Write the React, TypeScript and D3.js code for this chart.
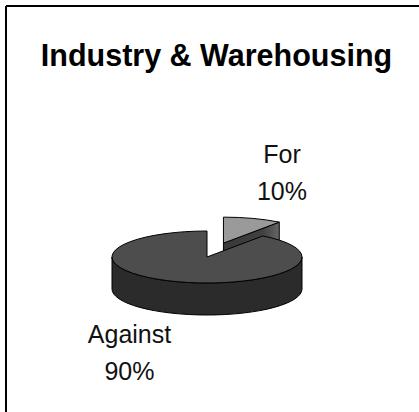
import React from "react";
import * as d3 from "d3";

const categories = ["For", "Against"];
const values = [10, 90];
const percentLabels = ["10%", "90%"];
const title = "Industry & Warehousing";

const W = 419;
const H = 412;
const CX = 207;
const CY = 257;
const RX = 95;
const RY = 26;
const DEPTH = 32;
const EXPLODE = [0.56, 0];

const topColors = ["#9a9a9a", "#4d4d4d"];
const wallColors = ["#5e5e5e", "#2b2b2b"];
const cutColors = ["#3e3e3e", "#3a3a3a"];

const labelPos = [
  { x: 282, y: 163 },
  { x: 129.5, y: 343 },
];

function pt(a: number, cx: number, cy: number, dy = 0): [number, number] {
  return [cx + RX * Math.sin(a), cy - RY * Math.cos(a) + dy];
}

export default function App() {
  const pie = d3.pie<number>().sort(null).value((d) => d).startAngle(0).endAngle(2 * Math.PI);
  const arcs = pie(values);

  const slices = arcs.map((a, i) => {
    const mid = (a.startAngle + a.endAngle) / 2;
    const k = EXPLODE[i];
    const cx = CX + k * RX * Math.sin(mid);
    const cy = CY - k * RY * Math.cos(mid);
    const a0 = a.startAngle;
    const a1 = a.endAngle;
    const large = a1 - a0 > Math.PI ? 1 : 0;
    const s = pt(a0, cx, cy);
    const e = pt(a1, cx, cy);
    const top = `M${cx},${cy}L${s[0]},${s[1]}A${RX},${RY} 0 ${large} 1 ${e[0]},${e[1]}Z`;

    const w0 = Math.max(a0, Math.PI / 2);
    const w1 = Math.min(a1, (3 * Math.PI) / 2);
    let wall: string | null = null;
    if (w1 > w0) {
      const ws = pt(w0, cx, cy);
      const we = pt(w1, cx, cy);
      wall = `M${ws[0]},${ws[1]}A${RX},${RY} 0 0 1 ${we[0]},${we[1]}L${we[0]},${we[1] + DEPTH}A${RX},${RY} 0 0 0 ${ws[0]},${ws[1] + DEPTH}Z`;
    }
    let cut: string | null = null;
    if (a1 > 0 && a1 < Math.PI) {
      cut = `M${cx},${cy}L${e[0]},${e[1]}L${e[0]},${e[1] + DEPTH}L${cx},${cy + DEPTH}Z`;
    }
    let cutStart: string | null = null;
    if (a0 > Math.PI && a0 < 2 * Math.PI) {
      cutStart = `M${cx},${cy}L${s[0]},${s[1]}L${s[0]},${s[1] + DEPTH}L${cx},${cy + DEPTH}Z`;
    }
    return { i, top, wall, cut, cutStart };
  });

  const font = "'Liberation Sans', Arial, sans-serif";

  return (
    <div style={{ position: "absolute", left: 0, top: 0 }}>
      <svg width={W} height={H} style={{ display: "block", background: "#fff" }}>
        <rect x={0} y={0} width={W} height={H} fill="#fff" />
        <line x1={6} y1={6} x2={W} y2={6} stroke="#000" strokeWidth={2} />
        <line x1={6} y1={6} x2={6} y2={H} stroke="#000" strokeWidth={2} />
        <text x={216.5} y={66} textAnchor="middle" fontFamily={font} fontWeight="bold" fontSize={30.5} fill="#000">
          {title}
        </text>
        <defs>
          <linearGradient id="cutGrad" x1="0" y1="0" x2="1" y2="0">
            <stop offset="0" stopColor="#383838" />
            <stop offset="0.7" stopColor="#404040" />
            <stop offset="1" stopColor="#666" />
          </linearGradient>
        </defs>
        {slices.map((s) => (
          <g key={categories[s.i]}>
            {s.wall && <path d={s.wall} fill={wallColors[s.i]} stroke="#000" strokeWidth={1} strokeLinejoin="round" />}
            {s.cutStart && <path d={s.cutStart} fill={cutColors[s.i]} stroke="#000" strokeWidth={1} />}
            {s.cut && <path d={s.cut} fill={s.i === 0 ? "url(#cutGrad)" : cutColors[s.i]} stroke="#000" strokeWidth={1} />}
            <path d={s.top} fill={topColors[s.i]} stroke="#000" strokeWidth={1} strokeLinejoin="round" />
          </g>
        ))}
        {categories.map((c, i) => (
          <g key={"lab" + c}>
            <text x={labelPos[i].x} y={labelPos[i].y} textAnchor="middle" fontFamily={font} fontSize={25} fill="#111">
              {c}
            </text>
            <text x={labelPos[i].x} y={labelPos[i].y + 37} textAnchor="middle" fontFamily={font} fontSize={25} fill="#111">
              {percentLabels[i]}
            </text>
          </g>
        ))}
      </svg>
    </div>
  );
}
